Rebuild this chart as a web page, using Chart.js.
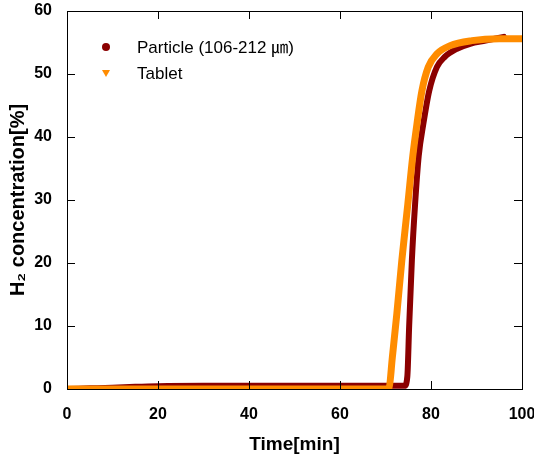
<!DOCTYPE html>
<html>
<head>
<meta charset="utf-8">
<script src="https://cdn.jsdelivr.net/npm/chart.js@4"></script>
<style>
html,body{margin:0;padding:0;background:#fff;}
#wrap{width:534px;height:460px;}
</style>
</head>
<body>
<div id="wrap"><canvas id="c" width="534" height="460"></canvas></div>
<script>
const seriesNames = ['Particle (106-212 \u339B)', 'Tablet'];
const particleTime = [0,5,10,15,20,30,40,50,60,70,74.2,74.8,75.2,75.8,76.5,77.3,78.3,79.6,81.3,83,85.7,88.6,92,94,96];
const particleH2   = [0,0.1,0.2,0.35,0.45,0.5,0.5,0.5,0.5,0.5,0.5,2,10,20.5,29.3,37,42,47.3,51.1,52.7,54,54.8,55.3,55.6,55.9];
const tabletTime = [0,10,30,50,70,70.8,71.5,72.5,73.6,74.9,76,76.9,78,79.4,81.3,84.2,89,95,100];
const tabletH2   = [0,0,0,0,0,0.3,5,12,20.5,29.3,37,42,47.3,51.1,53.2,54.5,55.3,55.6,55.6];
const xTicks = [0,20,40,60,80,100];
const yTicks = [0,10,20,30,40,50,60];
const colors = ['#8B0000', '#FF8C00'];

function pts(xs, ys){ return xs.map((x,i)=>({x:x, y:ys[i]})); }

const frameTicks = {
  id:'frameTicks',
  afterDatasetsDraw(chart){
    const {ctx, chartArea:a, scales:{x,y}} = chart;
    ctx.save();
    ctx.strokeStyle = '#000';
    ctx.lineWidth = 1;
    ctx.strokeRect(Math.round(a.left)+0.5, Math.round(a.top)+0.5, Math.round(a.right-a.left), Math.round(a.bottom-a.top));
    const L = 8;
    ctx.beginPath();
    xTicks.forEach(v=>{
      if(v===xTicks[0]||v===xTicks[xTicks.length-1]) return;
      const px = Math.round(x.getPixelForValue(v))+0.5;
      ctx.moveTo(px, a.bottom); ctx.lineTo(px, a.bottom-L);
      ctx.moveTo(px, a.top); ctx.lineTo(px, a.top+L);
    });
    yTicks.forEach(v=>{
      if(v===yTicks[0]||v===yTicks[yTicks.length-1]) return;
      const py = Math.round(y.getPixelForValue(v))+0.5;
      ctx.moveTo(a.left, py); ctx.lineTo(a.left+L, py);
      ctx.moveTo(a.right, py); ctx.lineTo(a.right-L, py);
    });
    ctx.stroke();
    // legend
    ctx.font = '17px "Liberation Sans", Arial, "Noto Sans CJK JP", sans-serif';
    ctx.textBaseline = 'middle';
    const lx = 106, tx = 137, ly = [47, 73];
    ctx.fillStyle = colors[0];
    ctx.beginPath(); ctx.arc(lx, ly[0], 4, 0, Math.PI*2); ctx.fill();
    ctx.fillStyle = colors[1];
    ctx.beginPath(); ctx.moveTo(lx-4, ly[1]-3); ctx.lineTo(lx+4, ly[1]-3); ctx.lineTo(lx, ly[1]+4); ctx.closePath(); ctx.fill();
    ctx.fillStyle = '#000';
    ctx.fillText(seriesNames[0], tx, ly[0]+1);
    ctx.fillText(seriesNames[1], tx, ly[1]+1);
    ctx.restore();
  }
};

const tickFont = {family:'"Liberation Sans", Arial, sans-serif', size:16, weight:'bold'};
const titleFont = {family:'"Liberation Sans", Arial, sans-serif', size:19, weight:'bold'};
const yTitleFont = {family:'"Liberation Sans", Arial, sans-serif', size:20, weight:'bold'};

new Chart(document.getElementById('c'), {
  type:'line',
  data:{
    datasets:[
      {label:seriesNames[0], data:pts(particleTime, particleH2), borderColor:colors[0], backgroundColor:colors[0],
       borderWidth:6, pointRadius:0, cubicInterpolationMode:'monotone', borderCapStyle:'round', borderJoinStyle:'round', order:2},
      {label:seriesNames[1], data:pts(tabletTime, tabletH2), borderColor:colors[1], backgroundColor:colors[1],
       borderWidth:7, pointRadius:0, cubicInterpolationMode:'monotone', borderCapStyle:'round', borderJoinStyle:'round', order:1}
    ]
  },
  options:{
    responsive:false, animation:false,
    layout:{padding:{top:11, right:12, left:0, bottom:0}},
    plugins:{legend:{display:false}, tooltip:{enabled:false}},
    scales:{
      x:{type:'linear', min:0, max:100,
         afterBuildTicks(s){ s.ticks = xTicks.map(v=>({value:v})); },
         afterFit(s){ s.height = 71; s.paddingLeft = 0; s.paddingRight = 0; },
         grid:{display:false}, border:{display:false},
         ticks:{color:'#000', font:tickFont, padding:8, maxRotation:0},
         title:{display:true, text:'Time[min]', color:'#000', font:titleFont, padding:{top:14}}},
      y:{type:'linear', min:0, max:60,
         afterBuildTicks(s){ s.ticks = yTicks.map(v=>({value:v})); },
         afterFit(s){ s.width = 67; s.paddingTop = 0; s.paddingBottom = 0; },
         grid:{display:false}, border:{display:false},
         ticks:{color:'#000', font:tickFont, padding:7},
         title:{display:true, text:'H\u2082 concentration[%]', color:'#000', font:yTitleFont, padding:{top:6, bottom:8}}}
    }
  },
  plugins:[frameTicks]
});
</script>
</body>
</html>
